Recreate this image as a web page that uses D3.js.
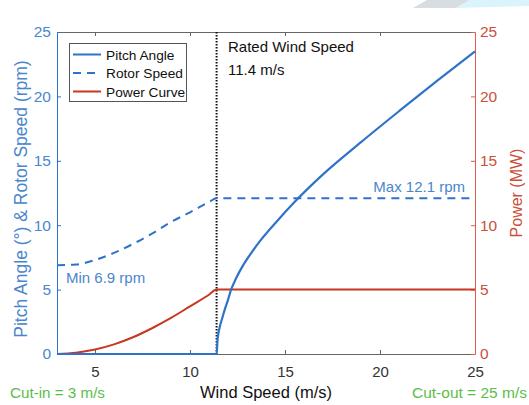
<!DOCTYPE html>
<html><head><meta charset="utf-8">
<script src="https://cdn.jsdelivr.net/npm/d3@7"></script>
<style>
body{margin:0;background:#fff;}
svg{display:block;font-family:"Liberation Sans",Arial,Helvetica,sans-serif;}
</style></head><body>
<svg id="c" width="529" height="405"></svg>
<script>
// Data
const pitchAngle = [[3,0],[11.4,0],[11.45,1.1],[11.55,2.0],[11.7,2.8],[11.84,3.5],[12.0,4.2],[12.14,4.9],[12.4,5.8],[12.8,6.9],[13.2,7.8],[13.7,8.8],[14.6,10.35],[15.5,11.8],[17,13.95],[19,16.45],[21,18.85],[23,21.2],[25,23.5]];
const rotorSpeed = [[3,6.9],[4,6.95],[5,7.3],[6,7.85],[7,8.55],[8,9.35],[9,10.25],[10,11.0],[11,11.8],[11.4,12.1],[25,12.1]];
const powerCurve = [[3,0],[4,0.1],[5,0.35],[6,0.75],[7,1.3],[8,2.0],[9,2.8],[10,3.7],[11,4.6],[11.4,5],[25,5]];
const xTicks = [5,10,15,20,25];
const yLeftTicks = [0,5,10,15,20,25];
const yRightTicks = [0,5,10,15,20,25];
const ratedSpeed = 11.4;
const legendLabels = ["Pitch Angle","Rotor Speed","Power Curve"];

const svg = d3.select("#c");
const L=57, R=475, T=32, B=354;
const x = d3.scaleLinear().domain([3,25]).range([L,R]);
const yL = d3.scaleLinear().domain([0,25]).range([B,T]);
const yR = d3.scaleLinear().domain([0,25]).range([B,T]);

const blue="#2f72c9", blueText="#4a86cc", red="#c8371f", redText="#c9503c", gray="#666", green="#5cbd4a";
const FF="Liberation Sans, Arial, sans-serif";

// decoration top-right
svg.append("polygon").attr("points","413,8 427,0 470,0 456,8").attr("fill","#d8dde2");
svg.append("polygon").attr("points","456,8 470,0 529,0 529,6").attr("fill","#d9f4fb");

// axes box top & bottom
const xAxisB = d3.axisBottom(x).tickValues(xTicks).tickSizeInner(-4).tickSizeOuter(0).tickPadding(12);
const gB = svg.append("g").attr("transform",`translate(0,${B})`).call(xAxisB);
gB.select(".domain").attr("stroke",gray);
gB.selectAll(".tick line").attr("stroke",gray);
gB.selectAll("text").attr("fill","#333").attr("font-size",15).attr("font-family",FF);
gB.selectAll(".tick").filter(d=>d===25).select("line").remove();

const xAxisT = d3.axisTop(x).tickValues(xTicks.filter(d=>d<25)).tickSizeInner(-4).tickSizeOuter(0).tickFormat("");
const gT = svg.append("g").attr("transform",`translate(0,${T})`).call(xAxisT);
gT.select(".domain").attr("stroke",gray);
gT.selectAll(".tick line").attr("stroke",gray);

// left axis
const gL = svg.append("g").attr("transform",`translate(${L},0)`).call(d3.axisLeft(yL).tickValues(yLeftTicks).tickSizeInner(-4).tickSizeOuter(0).tickPadding(6));
gL.select(".domain").attr("stroke",blue);
gL.selectAll(".tick line").attr("stroke",blue);
gL.selectAll("text").attr("fill",blueText).attr("font-size",15.5).attr("font-family",FF);

// right axis
const gR = svg.append("g").attr("transform",`translate(${R},0)`).call(d3.axisRight(yR).tickValues(yRightTicks).tickSizeInner(-4).tickSizeOuter(0).tickPadding(5));
gR.select(".domain").attr("stroke","#d9604c");
gR.selectAll(".tick line").attr("stroke","#d9604c");
gR.selectAll("text").attr("fill",redText).attr("font-size",15.5).attr("font-family",FF);

// rated vertical dotted line
svg.append("line").attr("x1",x(ratedSpeed)).attr("x2",x(ratedSpeed)).attr("y1",T).attr("y2",B)
  .attr("stroke","#111").attr("stroke-width",2).attr("stroke-dasharray","1.5,1.5");

const line = ys => d3.line().x(d=>x(d[0])).y(d=>ys(d[1])).curve(d3.curveMonotoneX);

svg.append("path").datum(powerCurve).attr("d",line(yR)).attr("fill","none").attr("stroke",red).attr("stroke-width",2);
svg.append("path").datum(rotorSpeed).attr("d",line(yL)).attr("fill","none").attr("stroke",blue).attr("stroke-width",2).attr("stroke-dasharray","8,6");
svg.append("path").datum(pitchAngle).attr("d",line(yL)).attr("fill","none").attr("stroke",blue).attr("stroke-width",2.2);

// annotations
svg.append("text").attr("x",228).attr("y",52).attr("font-size",15).attr("fill","#111").text("Rated Wind Speed");
svg.append("text").attr("x",228).attr("y",75).attr("font-size",15).attr("fill","#111").text(ratedSpeed+" m/s");
svg.append("text").attr("x",465).attr("y",yL(12.1)-6).attr("text-anchor","end").attr("font-size",15).attr("fill",blueText).text("Max 12.1 rpm");
svg.append("text").attr("x",66).attr("y",283).attr("font-size",15).attr("fill",blueText).text("Min 6.9 rpm");

// legend
const lg = svg.append("g");
lg.append("rect").attr("x",69.5).attr("y",43.5).attr("width",117).attr("height",58).attr("fill","#fff").attr("stroke","#555").attr("stroke-width",1);
const lgStyles=[{c:blue,d:null},{c:blue,d:"8,6"},{c:red,d:null}];
legendLabels.forEach((lab,i)=>{
  const yy = 54.5 + i*18.5;
  lg.append("line").attr("x1",73).attr("x2",101).attr("y1",yy).attr("y2",yy).attr("stroke",lgStyles[i].c).attr("stroke-width",2).attr("stroke-dasharray",lgStyles[i].d);
  lg.append("text").attr("x",106).attr("y",yy+5).attr("font-size",13.7).attr("fill","#111").text(lab);
});

// axis titles
svg.append("text").attr("x",(L+R)/2).attr("y",398).attr("text-anchor","middle").attr("font-size",16.5).attr("fill","#111").text("Wind Speed (m/s)");
svg.append("text").attr("transform",`translate(27,199) rotate(-90)`).attr("text-anchor","middle").attr("font-size",17.5).attr("fill",blueText).text("Pitch Angle (°) & Rotor Speed (rpm)");
svg.append("text").attr("transform",`translate(522,193) rotate(-90)`).attr("text-anchor","middle").attr("font-size",16).attr("fill",redText).text("Power (MW)");
svg.append("text").attr("x",10).attr("y",398).attr("font-size",15.2).attr("fill",green).text("Cut-in = 3 m/s");
svg.append("text").attr("x",527).attr("y",398).attr("text-anchor","end").attr("font-size",15.5).attr("fill",green).text("Cut-out = 25 m/s");
</script></body></html>
